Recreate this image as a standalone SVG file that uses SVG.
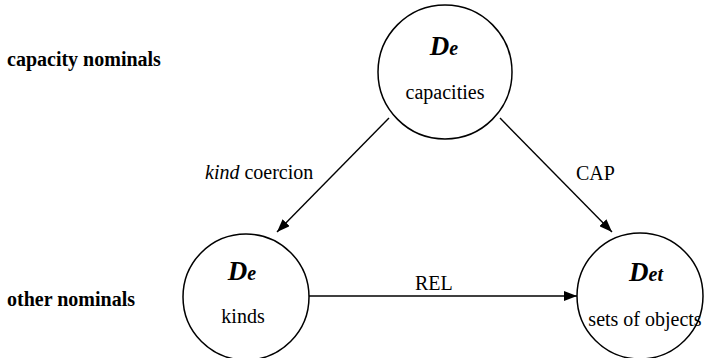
<svg xmlns="http://www.w3.org/2000/svg" width="709" height="358" viewBox="0 0 709 358">
<defs>
<marker id="ah" markerWidth="13" markerHeight="10" refX="13" refY="5" orient="auto" markerUnits="userSpaceOnUse">
<path d="M0,0 L13,5 L0,10 z" fill="#000"/>
</marker>
<style>
.c{fill:none;stroke:#000;stroke-width:1.5}
text{font-family:'Liberation Serif','Times New Roman','DejaVu Serif',serif;fill:#000}
.lbl{font-size:20px}
.side{font-size:20px;font-weight:bold}
.D{font-size:27px;font-weight:bold;font-style:italic}
.sub{font-size:20px;font-weight:bold;font-style:italic}
.e{stroke:#000;stroke-width:1.4;fill:none;marker-end:url(#ah)}
</style>
</defs>
<rect width="709" height="358" fill="#fff"/>
<text class="side" x="7" y="66">capacity nominals</text>
<text class="side" x="7" y="306">other nominals</text>
<g id="node-capacities">
<circle class="c" cx="445" cy="72" r="67"/>
<text x="444" y="55" text-anchor="middle"><tspan class="D">D</tspan><tspan class="sub">e</tspan></text>
<text class="lbl" x="445" y="99" text-anchor="middle">capacities</text>
</g>
<g id="node-kinds">
<circle class="c" cx="246" cy="297" r="63"/>
<text x="242" y="280" text-anchor="middle"><tspan class="D">D</tspan><tspan class="sub">e</tspan></text>
<text class="lbl" x="243" y="323" text-anchor="middle">kinds</text>
</g>
<g id="node-sets">
<circle class="c" cx="640" cy="296" r="63"/>
<text x="646" y="281" text-anchor="middle"><tspan class="D">D</tspan><tspan class="sub">et</tspan></text>
<text class="lbl" x="645" y="326" text-anchor="middle">sets of objects</text>
</g>
<g id="connectors">
<line class="e" x1="389" y1="118" x2="277" y2="232"/>
<line class="e" x1="500" y1="118" x2="612" y2="232"/>
<line class="e" x1="309" y1="296" x2="577" y2="296"/>
<text class="lbl" x="205" y="179"><tspan font-style="italic">kind</tspan> coercion</text>
<text class="lbl" x="576" y="180">CAP</text>
<text class="lbl" x="415" y="290">REL</text>
</g>
</svg>
